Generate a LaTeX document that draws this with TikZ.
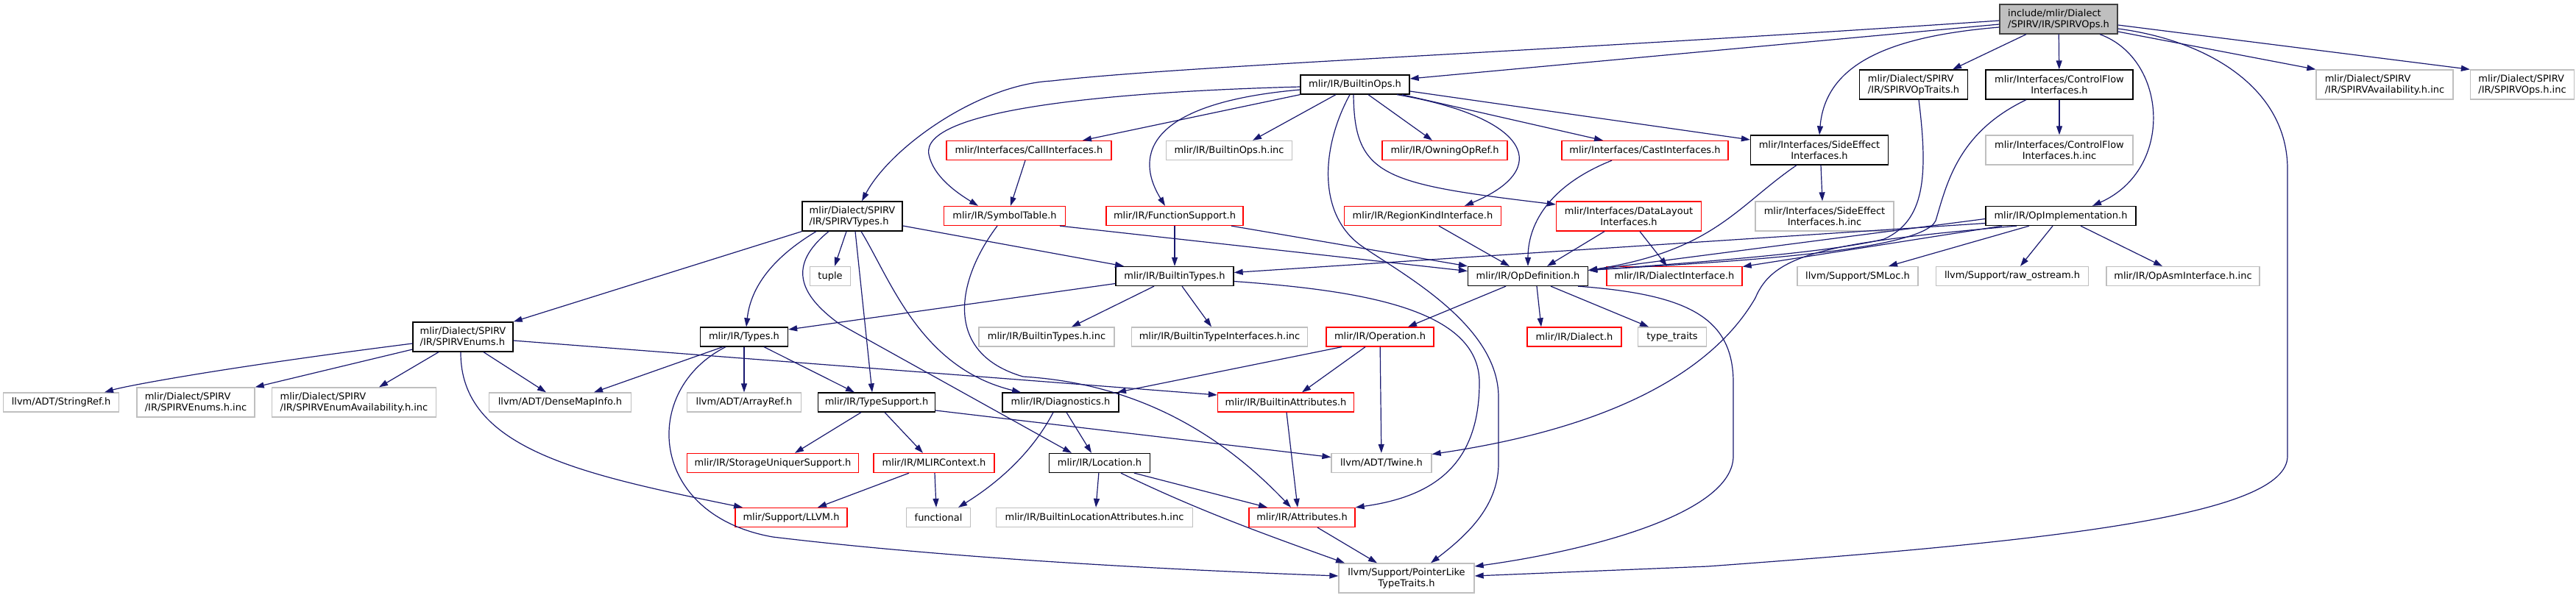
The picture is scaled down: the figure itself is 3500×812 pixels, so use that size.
\documentclass[tikz,border=0pt]{standalone}
\usepackage{fontspec}
\setmainfont{DejaVu Sans}
\usetikzlibrary{arrows.meta}
\definecolor{edgeblue}{HTML}{191970}
\definecolor{grey75}{HTML}{BFBFBF}
\definecolor{grey25}{HTML}{404040}
\tikzset{
  box/.style={
    rectangle,
    inner xsep=4pt,
    inner ysep=2pt,
    minimum height=26pt,
    fill=white,
    line width=1.3pt,
    font=\fontsize{13pt}{15pt}\selectfont
  },
  docnode/.style={box, draw=black, minimum width=#1pt},
  extnode/.style={box, draw=grey75, minimum width=#1pt},
  cutnode/.style={box, draw=red, minimum width=#1pt},
  rootnode/.style={box, draw=grey25, fill=grey75, minimum width=#1pt},
  twoline/.style={minimum height=40pt, align=center},
  leftlines/.style={minimum height=40pt, align=left},
  incl/.style={-{Triangle[length=12pt,width=8pt]}, draw=edgeblue, line width=1.2pt}
}

\begin{document}
\begin{tikzpicture}[x=1pt,y=-1pt]
\fill[white] (0,0) rectangle (3500,812);
\useasboundingbox (0,0) rectangle (3500,812);

% top of the graph
\node[rootnode=160, leftlines] (root) at (2797,26) {include/mlir/Dialect\\/SPIRV/IR/SPIRVOps.h};
\node[docnode=147, leftlines] (optraits) at (2600,115) {mlir/Dialect/SPIRV\\/IR/SPIRVOpTraits.h};
\node[docnode=200, twoline] (cfi) at (2798,115) {mlir/Interfaces/ControlFlow\\Interfaces.h};
\node[extnode=186, leftlines] (avail) at (3240,115) {mlir/Dialect/SPIRV\\/IR/SPIRVAvailability.h.inc};
\node[extnode=141, leftlines] (opsinc) at (3427,115) {mlir/Dialect/SPIRV\\/IR/SPIRVOps.h.inc};
\node[docnode=148] (bops) at (1841,115) {mlir/IR/BuiltinOps.h};

\node[cutnode=224] (call) at (1398,204.5) {mlir/Interfaces/CallInterfaces.h};
\node[extnode=171] (bopsinc) at (1670,204.5) {mlir/IR/BuiltinOps.h.inc};
\node[cutnode=170] (owning) at (1963,204.5) {mlir/IR/OwningOpRef.h};
\node[cutnode=226] (cast) at (2235,204.5) {mlir/Interfaces/CastInterfaces.h};
\node[docnode=187, twoline] (sei) at (2472,204) {mlir/Interfaces/SideEffect\\Interfaces.h};
\node[extnode=200, twoline] (cfiinc) at (2798,204) {mlir/Interfaces/ControlFlow\\Interfaces.h.inc};

\node[docnode=136, leftlines] (spvtypes) at (1158,294) {mlir/Dialect/SPIRV\\/IR/SPIRVTypes.h};
\node[cutnode=165] (symtab) at (1365,293.5) {mlir/IR/SymbolTable.h};
\node[cutnode=186] (funcsup) at (1596,293.5) {mlir/IR/FunctionSupport.h};
\node[cutnode=213] (region) at (1933,293.5) {mlir/IR/RegionKindInterface.h};
\node[cutnode=197, twoline] (dlayout) at (2213,294) {mlir/Interfaces/DataLayout\\Interfaces.h};
\node[extnode=188, twoline] (seiinc) at (2479,294) {mlir/Interfaces/SideEffect\\Interfaces.h.inc};
\node[docnode=204] (opimpl) at (2800,293.5) {mlir/IR/OpImplementation.h};

\node[extnode=55] (tuple) at (1128,375.5) {tuple};
\node[docnode=160] (btypes) at (1596,375.5) {mlir/IR/BuiltinTypes.h};
\node[docnode=163] (opdef) at (2076,375.5) {mlir/IR/OpDefinition.h};
\node[cutnode=184] (dialiface) at (2275,375.5) {mlir/IR/DialectInterface.h};
\node[extnode=164] (smloc) at (2524,375.5) {llvm/Support/SMLoc.h};
\node[extnode=207] (rawos) at (2734,375.5) {llvm/Support/raw\_ostream.h};
\node[extnode=208] (asmiface) at (2966,375.5) {mlir/IR/OpAsmInterface.h.inc};

% lower half
\node[docnode=136, leftlines] (spvenums) at (629,458) {mlir/Dialect/SPIRV\\/IR/SPIRVEnums.h};
\node[docnode=119] (types) at (1011,458) {mlir/IR/Types.h};
\node[extnode=184] (btypesinc) at (1422,458) {mlir/IR/BuiltinTypes.h.inc};
\node[extnode=239] (btiinc) at (1657,458) {mlir/IR/BuiltinTypeInterfaces.h.inc};
\node[cutnode=146] (operation) at (1875,458) {mlir/IR/Operation.h};
\node[cutnode=128] (dialect) at (2139,458) {mlir/IR/Dialect.h};
\node[extnode=93] (ttraits) at (2272,458) {type\_traits};

\node[extnode=157] (strref) at (83,547) {llvm/ADT/StringRef.h};
\node[extnode=160, leftlines] (enumsinc) at (266,547) {mlir/Dialect/SPIRV\\/IR/SPIRVEnums.h.inc};
\node[extnode=223, leftlines] (enumavail) at (481,547) {mlir/Dialect/SPIRV\\/IR/SPIRVEnumAvailability.h.inc};
\node[extnode=193] (densemap) at (761,547) {llvm/ADT/DenseMapInfo.h};
\node[extnode=155] (arrayref) at (1011,547) {llvm/ADT/ArrayRef.h};
\node[docnode=159] (tsupport) at (1191,547) {mlir/IR/TypeSupport.h};
\node[docnode=158] (diag) at (1441,547) {mlir/IR/Diagnostics.h};
\node[cutnode=185] (battrs) at (1747,547) {mlir/IR/BuiltinAttributes.h};

\node[cutnode=233] (storage) at (1050,629.5) {mlir/IR/StorageUniquerSupport.h};
\node[cutnode=164] (mlirctx) at (1269,629.5) {mlir/IR/MLIRContext.h};
\node[docnode=137] (location) at (1494,629.5) {mlir/IR/Location.h};
\node[extnode=136] (twine) at (1877,629.5) {llvm/ADT/Twine.h};

\node[cutnode=152] (llvmh) at (1075,703.5) {mlir/Support/LLVM.h};
\node[extnode=87] (functional) at (1275,703.5) {functional};
\node[extnode=267] (blocattrs) at (1487,703.5) {mlir/IR/BuiltinLocationAttributes.h.inc};
\node[cutnode=144] (attrs) at (1769,703.5) {mlir/IR/Attributes.h};
\node[extnode=184, twoline] (ptrlike) at (1911,786) {llvm/Support/PointerLike\\TypeTraits.h};

% SPIRVOps.h
\draw[incl] ([yshift=-7pt]root.west) -- ([yshift=8pt]bops.east);
\draw[incl] ([yshift=-2pt]root.west) .. controls (2100,70) and (1600,90) .. (1429,110) .. controls (1330,115) and (1210,200) .. ([xshift=13pt]spvtypes.north);
\draw[incl] ([yshift=-11pt]root.west) .. controls (2560,50) and (2480,90) .. (sei.north);
\draw[incl] ([xshift=-44pt]root.south) -- ([xshift=53pt]optraits.north);
\draw[incl] (root) -- (cfi);
\draw[incl] ([xshift=56pt]root.south) .. controls (2945,80) and (2955,230) .. ([xshift=43pt]opimpl.north);
\draw[incl] ([yshift=-17pt]root.east) -- (avail.north west);
\draw[incl] ([yshift=-8pt]root.east) -- (opsinc.north west);
\draw[incl] ([yshift=-13pt]root.east) .. controls (3000,55) and (3108,120) .. (3108,230) -- (3108,620) .. controls (3108,700) and (2800,735) .. (2320,770) -- ([yshift=3pt]ptrlike.east);

% BuiltinOps.h
\draw[incl] ([yshift=-3pt]bops.west) .. controls (1500,125) and (1250,150) .. (1262,210) .. controls (1268,240) and (1300,262) .. ([xshift=-36pt]symtab.north);
\draw[incl] (bops.south west) -- ([xshift=73pt]call.north);
\draw[incl] ([yshift=-7pt]bops.west) .. controls (1560,140) and (1540,210) .. ([xshift=-13pt]funcsup.north);
\draw[incl] ([xshift=-26pt]bops.south) -- ([xshift=32pt]bopsinc.north);
\draw[incl] ([xshift=-7pt]bops.south) .. controls (1795,200) and (1790,290) .. (1848,333) .. controls (1900,370) and (2036,440) .. (2036,540) -- (2036,630) .. controls (2036,690) and (1990,730) .. ([xshift=33pt]ptrlike.north);
\draw[incl] ([xshift=-2pt]bops.south) .. controls (1840,240) and (1880,250) .. ([yshift=16pt]dlayout.west);
\draw[incl] ([xshift=18pt]bops.south) -- ([xshift=-17pt]owning.north);
\draw[incl] ([xshift=57pt]bops.south) .. controls (2080,160) and (2110,230) .. ([xshift=57pt]region.north);
\draw[incl] ([xshift=64pt]bops.south) -- ([xshift=-57pt]cast.north);
\draw[incl] ([yshift=-9pt]bops.east) -- ([yshift=14pt]sei.west);

% interfaces
\draw[incl] ([xshift=-5pt]call.south) -- ([xshift=8pt]symtab.north);
\draw[incl] ([xshift=75pt]symtab.south) -- ([yshift=7pt]opdef.west);
\draw[incl] ([xshift=-10pt]symtab.south) .. controls (1300,380) and (1280,480) .. (1390,512) .. controls (1520,520) and (1640,570) .. ([xshift=-15pt]attrs.north);
\draw[incl] (funcsup) -- (btypes);
\draw[incl] ([xshift=77pt]funcsup.south) -- (opdef.north west);
\draw[incl] ([xshift=22pt]region.south) -- ([xshift=-25pt]opdef.north);
\draw[incl] ([xshift=-33pt]dlayout.south) -- ([xshift=26pt]opdef.north);
\draw[incl] ([xshift=15pt]dlayout.south) -- ([xshift=-10pt]dialiface.north);
\draw[incl] ([xshift=-45pt]cast.south) .. controls (2110,250) and (2076,300) .. (opdef.north);
\draw[incl] ([xshift=2pt]sei.south) -- ([xshift=-3pt]seiinc.north);
\draw[incl] ([xshift=-31pt]sei.south) .. controls (2360,280) and (2330,340) .. ([yshift=8pt]opdef.east);
\draw[incl] ([xshift=7pt]optraits.south) .. controls (2620,240) and (2615,300) .. (2560,325) .. controls (2480,345) and (2260,360) .. ([yshift=8pt]opdef.east);
\draw[incl] (cfi) -- (cfiinc);
\draw[incl] ([xshift=-45pt]cfi.south) .. controls (2660,180) and (2645,250) .. (2630,300) .. controls (2610,345) and (2300,358) .. ([yshift=8pt]opdef.east);

% OpImplementation.h
\draw[incl] ([yshift=-4pt]opimpl.west) -- ([yshift=8pt]opdef.east);
\draw[incl] ([xshift=-80pt]opimpl.south) -- ([yshift=13pt]dialiface.east);
\draw[incl] ([yshift=-10pt]opimpl.west) -- ([yshift=5pt]btypes.east);
\draw[incl] ([xshift=-60pt]opimpl.south) .. controls (2480,330) and (2410,345) .. (2385,405) .. controls (2330,500) and (2200,580) .. ([yshift=12pt]twine.east);
\draw[incl] ([xshift=-43pt]opimpl.south) -- ([xshift=42pt]smloc.north);
\draw[incl] ([xshift=-11pt]opimpl.south) -- ([xshift=11pt]rawos.north);
\draw[incl] ([xshift=27pt]opimpl.south) -- ([xshift=-28pt]asmiface.north);

% OpDefinition.h
\draw[incl] ([xshift=-30pt]opdef.south) -- ([xshift=38pt]operation.north);
\draw[incl] ([xshift=12pt]opdef.south) -- ([xshift=-45pt]dialect.north);
\draw[incl] ([xshift=31pt]opdef.south) -- ([xshift=-32pt]ttraits.north);
\draw[incl] ([xshift=68pt]opdef.south) .. controls (2290,400) and (2355,430) .. (2355,520) -- (2355,620) .. controls (2355,700) and (2150,750) .. ([yshift=16pt]ptrlike.east);

% SPIRVTypes.h
\draw[incl] ([yshift=-13pt]spvtypes.east) -- ([xshift=-69pt]btypes.north);
\draw[incl] (spvtypes.south west) -- (spvenums.north east);
\draw[incl] ([xshift=-49pt]spvtypes.south) .. controls (1050,350) and (1020,390) .. ([xshift=3pt]types.north);
\draw[incl] ([xshift=-32pt]spvtypes.south) .. controls (1070,360) and (1085,400) .. (1140,440) -- ([xshift=-38pt]location.north);
\draw[incl] ([xshift=-8pt]spvtypes.south) -- ([xshift=6pt]tuple.north);
\draw[incl] ([xshift=4pt]spvtypes.south) -- ([xshift=-6pt]tsupport.north);
\draw[incl] ([xshift=12pt]spvtypes.south) .. controls (1210,380) and (1250,500) .. ([xshift=-54pt]diag.north);

% BuiltinTypes.h
\draw[incl] ([yshift=-10pt]btypes.west) -- ([yshift=10pt]types.east);
\draw[incl] ([xshift=-28pt]btypes.south) -- ([xshift=34pt]btypesinc.north);
\draw[incl] ([xshift=10pt]btypes.south) -- ([xshift=-11pt]btiinc.north);
\draw[incl] ([yshift=-7pt]btypes.east) .. controls (1850,395) and (2010,420) .. (2010,520) .. controls (2010,630) and (1950,675) .. (attrs.north east);

% Types.h
\draw[incl] ([xshift=-29pt]types.south) -- ([xshift=46pt]densemap.north);
\draw[incl] (types) -- (arrayref);
\draw[incl] ([xshift=27pt]types.south) -- ([xshift=-30pt]tsupport.north);
\draw[incl] ([xshift=-25pt]types.south) .. controls (870,530) and (880,700) .. (1050,730) .. controls (1300,760) and (1600,775) .. ([yshift=3pt]ptrlike.west);

% SPIRVEnums.h
\draw[incl] ([yshift=-9pt]spvenums.west) .. controls (300,500) and (170,525) .. ([xshift=59pt]strref.north);
\draw[incl] ([yshift=-17pt]spvenums.west) -- (enumsinc.north east);
\draw[incl] ([xshift=-33pt]spvenums.south) -- ([xshift=34pt]enumavail.north);
\draw[incl] ([xshift=28pt]spvenums.south) -- ([xshift=-19pt]densemap.north);
\draw[incl] ([xshift=-3pt]spvenums.south) .. controls (625,610) and (790,645) .. ([xshift=-66pt]llvmh.north);
\draw[incl] ([yshift=-5pt]spvenums.east) -- ([yshift=10pt]battrs.west);

% TypeSupport.h and below
\draw[incl] ([xshift=-21pt]tsupport.south) -- ([xshift=30pt]storage.north);
\draw[incl] ([xshift=11pt]tsupport.south) -- ([xshift=-15pt]mlirctx.north);
\draw[incl] ([yshift=-11pt]tsupport.east) -- ([yshift=8pt]twine.west);
\draw[incl] ([xshift=-34pt]mlirctx.south) -- ([xshift=36pt]llvmh.north);
\draw[incl] ([xshift=1pt]mlirctx.south) -- ([xshift=-3pt]functional.north);
\draw[incl] ([xshift=-10pt]diag.south) .. controls (1400,620) and (1350,660) .. ([xshift=27pt]functional.north);
\draw[incl] ([xshift=8pt]diag.south) -- ([xshift=-11pt]location.north);
\draw[incl] (location) -- ([xshift=2pt]blocattrs.north);
\draw[incl] ([xshift=47pt]location.south) -- ([xshift=-47pt]attrs.north);
\draw[incl] ([xshift=29pt]location.south) .. controls (1620,690) and (1700,720) .. ([xshift=-84pt]ptrlike.north);
\draw[incl] ([xshift=21pt]attrs.south) -- ([xshift=-40pt]ptrlike.north);
\draw[incl] ([xshift=1pt]battrs.south) -- ([xshift=-6pt]attrs.north);

% Operation.h
\draw[incl] ([xshift=-52pt]operation.south) -- ([xshift=77pt]diag.north);
\draw[incl] ([xshift=-20pt]operation.south) -- ([xshift=22pt]battrs.north);
\draw[incl] (operation) -- (twine);
\end{tikzpicture}
\end{document}
